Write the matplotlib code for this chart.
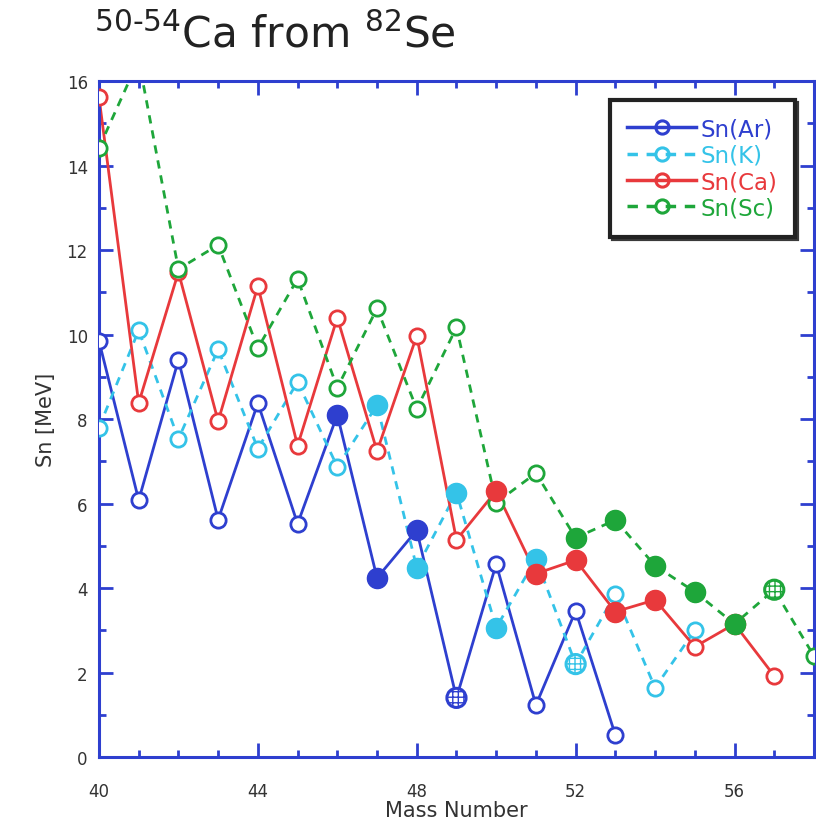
import matplotlib.pyplot as plt
from matplotlib.ticker import MultipleLocator

# Sn values [MeV] by mass number
ar_a = list(range(40, 54))
ar_sn = [9.85, 6.08, 9.4, 5.62, 8.38, 5.52, 8.1, 4.24, 5.37, 1.4, 4.57, 1.23, 3.46, 0.52]
ar_kind = ['o'] * 6 + ['f', 'f', 'f', 'h'] + ['o'] * 4

k_a = list(range(40, 56))
k_sn = [7.8, 10.1, 7.53, 9.65, 7.3, 8.88, 6.87, 8.33, 4.48, 6.26, 3.06, 4.69, 2.2, 3.86, 1.64, 3.0]
k_kind = ['o'] * 7 + ['f'] * 5 + ['h'] + ['o'] * 3

ca_a = list(range(40, 58))
ca_sn = [15.62, 8.38, 11.48, 7.95, 11.15, 7.37, 10.4, 7.24, 9.97, 5.14,
         6.3, 4.34, 4.66, 3.44, 3.72, 2.61, 3.15, 1.92]
ca_kind = ['o'] * 10 + ['f'] * 5 + ['o', 'f', 'o']

sc_a = list(range(40, 59))
sc_sn = [14.42, 16.5, 11.55, 12.12, 9.68, 11.32, 8.74, 10.62, 8.24, 10.17,
         6.02, 6.72, 5.19, 5.61, 4.53, 3.91, 3.15, 3.96, 2.39]
sc_kind = ['o'] * 12 + ['f'] * 5 + ['h', 'o']

series = [
    ('Sn(Ar)', ar_a, ar_sn, ar_kind, '#2e3fcf', '-'),
    ('Sn(K)', k_a, k_sn, k_kind, '#34c3e8', (0, (3, 2.5))),
    ('Sn(Ca)', ca_a, ca_sn, ca_kind, '#e8393c', '-'),
    ('Sn(Sc)', sc_a, sc_sn, sc_kind, '#1ea63a', (0, (3, 2.5))),
]

axis_blue = '#2e3fcf'
text_gray = '#333333'

fig = plt.figure(figsize=(8.16, 8.29), dpi=100)
ax = fig.add_axes([0.1213, 0.0856, 0.8762, 0.8154])

for label, a, sn, kind, color, ls in series:
    ax.plot(a, sn, color=color, ls=ls, lw=2, zorder=2)
    # legend proxy
    ax.plot([], [], color=color, ls=ls, lw=2.5, marker='o', ms=9.5,
            mfc='none', mec=color, mew=2.2, label=label)
    oa = [x for x, k in zip(a, kind) if k == 'o']
    osn = [y for y, k in zip(sn, kind) if k == 'o']
    ax.plot(oa, osn, ls='none', marker='o', ms=11, mfc='white', mec=color,
            mew=2, zorder=3)
    fa = [x for x, k in zip(a, kind) if k == 'f']
    fsn = [y for y, k in zip(sn, kind) if k == 'f']
    ax.plot(fa, fsn, ls='none', marker='o', ms=14.5, mfc=color, mec=color,
            zorder=4)
    ha = [x for x, k in zip(a, kind) if k == 'h']
    hsn = [y for y, k in zip(sn, kind) if k == 'h']
    ax.scatter(ha, hsn, s=190, facecolor='white', edgecolor=color,
               linewidth=2.2, hatch='+++', zorder=4)

ax.set_xlim(40, 58)
ax.set_ylim(0, 16)
ax.xaxis.set_major_locator(MultipleLocator(4))
ax.xaxis.set_minor_locator(MultipleLocator(1))
ax.yaxis.set_major_locator(MultipleLocator(2))
ax.yaxis.set_minor_locator(MultipleLocator(1))

for s in ax.spines.values():
    s.set_color(axis_blue)
    s.set_linewidth(2.2)
ax.tick_params(which='both', direction='in', color=axis_blue, width=2,
               top=True, right=True, labelcolor=text_gray, labelsize=12)
ax.tick_params(which='major', length=10)
ax.tick_params(which='minor', length=5)
ax.tick_params(axis='x', pad=18)
ax.tick_params(axis='y', pad=8)

ax.set_xlabel('Mass Number', fontsize=15, color=text_gray, labelpad=0)
ax.set_ylabel('Sn [MeV]', fontsize=15, color=text_gray, labelpad=8)

plt.rcParams['mathtext.default'] = 'regular'
fig.text(0.115, 0.957, r'$^{50\text{-}54}$Ca from $^{82}$Se', fontsize=30.5,
         color='#222222', ha='left', va='center')

leg = ax.legend(loc='upper right', bbox_to_anchor=(0.973, 0.972),
                borderaxespad=0, fancybox=False,
                shadow={'color': '#3a3a3a', 'alpha': 1},
                edgecolor='#222222', framealpha=1, fontsize=16.5,
                labelcolor='linecolor', handlelength=3.0, handletextpad=0.2,
                labelspacing=0.15, borderpad=0.75)
leg.get_frame().set_linewidth(3)

fig.savefig('out.png', dpi=100)
